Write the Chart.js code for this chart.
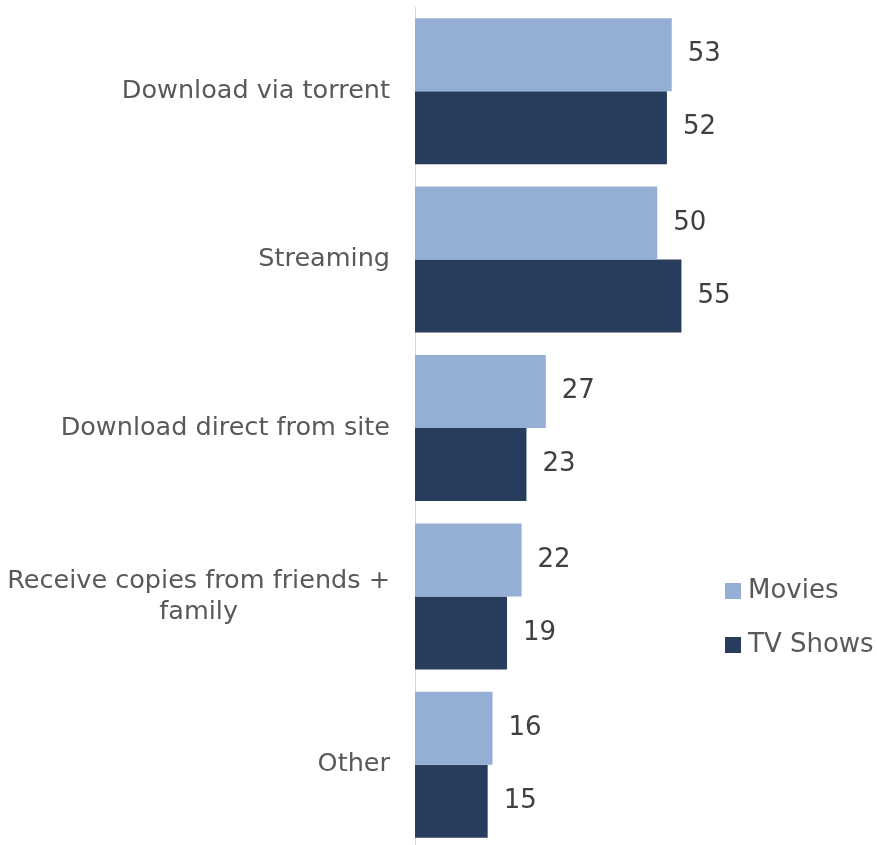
<!DOCTYPE html>
<html>
<head>
<meta charset="utf-8">
<script src="https://cdn.jsdelivr.net/npm/chart.js@4/dist/chart.umd.min.js"></script>
<style>
  html, body { margin: 0; padding: 0; background: #fff; overflow: hidden; }
  #wrap { position: relative; width: 877px; height: 851px; }
</style>
</head>
<body>
<div id="wrap"><canvas id="chart"></canvas></div>
<script>
// categories (top to bottom)
const categories = [
  'Download via torrent',
  'Streaming',
  'Download direct from site',
  ['Receive copies from friends +', 'family'],
  'Other'
];
const movies = [53, 50, 27, 22, 16];
const tvShows = [52, 55, 23, 19, 15];

const FONT = '"DejaVu Sans", sans-serif';

// category labels, multi-line ones centred as a block
const yLabels = {
  id: 'yLabels',
  afterDraw(chart) {
    const ctx = chart.ctx;
    const y = chart.scales.y;
    const right = chart.chartArea.left - 25;
    ctx.save();
    ctx.font = '25.5px ' + FONT;
    ctx.fillStyle = '#595959';
    ctx.textBaseline = 'middle';
    categories.forEach((lab, i) => {
      const lines = Array.isArray(lab) ? lab : [lab];
      const w = Math.max(...lines.map(l => ctx.measureText(l).width));
      const cx = right - w / 2;
      const lh = 31;
      const cy = y.getPixelForValue(i);
      lines.forEach((l, j) => {
        ctx.textAlign = 'center';
        ctx.fillText(l, cx, cy + (j - (lines.length - 1) / 2) * lh);
      });
    });
    ctx.restore();
  }
};

// values at the end of each bar
const valueLabels = {
  id: 'valueLabels',
  afterDatasetsDraw(chart) {
    const ctx = chart.ctx;
    ctx.save();
    ctx.font = '26px ' + FONT;
    ctx.fillStyle = '#404040';
    ctx.textAlign = 'left';
    ctx.textBaseline = 'middle';
    chart.data.datasets.forEach((ds, di) => {
      chart.getDatasetMeta(di).data.forEach((bar, i) => {
        ctx.fillText(ds.data[i], bar.x + 16, bar.y);
      });
    });
    ctx.restore();
  }
};

// legend on the right
const sideLegend = {
  id: 'sideLegend',
  afterDraw(chart) {
    const ctx = chart.ctx;
    ctx.save();
    ctx.font = '26px ' + FONT;
    ctx.textAlign = 'left';
    ctx.textBaseline = 'middle';
    chart.data.datasets.forEach((ds, i) => {
      const cy = 591 + i * 54;
      ctx.fillStyle = ds.backgroundColor;
      ctx.fillRect(725, cy - 8, 16, 16);
      ctx.fillStyle = '#595959';
      ctx.fillText(ds.label, 748, cy);
    });
    ctx.restore();
  }
};

new Chart(document.getElementById('chart'), {
  type: 'bar',
  data: {
    labels: categories,
    datasets: [
      { label: 'Movies', data: movies, backgroundColor: '#95AED4' },
      { label: 'TV Shows', data: tvShows, backgroundColor: '#283C5E' }
    ]
  },
  options: {
    indexAxis: 'y',
    responsive: true,
    maintainAspectRatio: false,
    animation: false,
    layout: { padding: { top: 7, bottom: 2, left: 0, right: 26 } },
    datasets: { bar: { categoryPercentage: 0.867, barPercentage: 1 } },
    plugins: {
      legend: { display: false },
      tooltip: { enabled: false }
    },
    scales: {
      x: { min: 0, max: 90, display: false },
      y: {
        grid: { display: false },
        border: { display: true, color: '#d9d9d9', width: 1 },
        ticks: { display: false },
        afterFit: s => { s.width = 415; }
      }
    }
  },
  plugins: [yLabels, valueLabels, sideLegend]
});
</script>
</body>
</html>
